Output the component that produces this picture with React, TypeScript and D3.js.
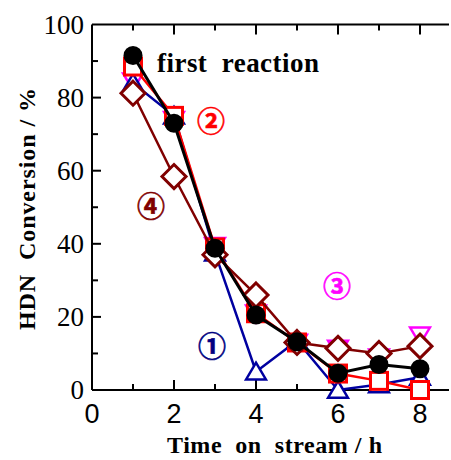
import React from 'react';
import * as d3 from 'd3';

const hours = [1, 2, 3, 4, 5, 6, 7, 8];
const run1 = [84, 75, 37.5, 5, 13.5, 0, 1.5, 3.5];
const run2 = [88.5, 75, 39, 21, 13, 4.5, 2.5, 0];
const run3 = [84.5, 74, 39.5, 21, 13, 11.4, 9, 15];
const run4 = [81.2, 58.4, 37, 26, 13, 11.4, 10, 12];
const first = [91.5, 73, 38.8, 20.5, 13.2, 4.6, 7, 5.8];
const xTicks = [0, 2, 4, 6, 8];
const yTicks = [0, 20, 40, 60, 80, 100];

const W = 451;
const H = 460;
const margin = { left: 92, top: 24.5, right: 2, bottom: 70 };

const App = () => {
  const x = d3.scaleLinear().domain([0, 8]).range([margin.left, 420]);
  const y = d3.scaleLinear().domain([0, 100]).range([390, margin.top]);
  const xEnd = W - margin.right;

  const line = (vals: number[]) =>
    d3.line<number>().x((d, i) => x(hours[i])).y((d) => y(d))(vals) || '';

  const serif = 'Liberation Serif, Times New Roman, serif';
  const sans = 'Liberation Sans, Arial, sans-serif';
  const circled = 'Noto Sans CJK JP, DejaVu Sans, sans-serif';

  const tri = (up: boolean) => {
    const s = 9;
    return up
      ? `M0,${-s} L${s * 1.1},${s * 0.85} L${-s * 1.1},${s * 0.85} Z`
      : `M0,${s} L${s * 1.1},${-s * 0.85} L${-s * 1.1},${-s * 0.85} Z`;
  };

  const pre = { whiteSpace: 'pre' as const };

  return (
    <svg width={W} height={H} style={{ position: 'absolute', left: 0, top: 0, background: '#fff' }}>
      {/* axes */}
      <g stroke="#000" strokeWidth={2} fill="none">
        <line x1={margin.left} x2={xEnd} y1={y(0)} y2={y(0)} />
        <line x1={margin.left} x2={xEnd} y1={y(100)} y2={y(100)} />
        <line x1={margin.left} x2={margin.left} y1={y(0)} y2={y(100)} />
        {d3.range(1, 9).map((t) => {
          const len = t % 2 === 0 ? 10 : 6;
          return (
            <g key={'xt' + t}>
              <line x1={x(t)} x2={x(t)} y1={y(0)} y2={y(0) - len} />
              <line x1={x(t)} x2={x(t)} y1={y(100)} y2={y(100) + len} />
            </g>
          );
        })}
        {d3.range(10, 100, 10).map((t) => (
          <line
            key={'yt' + t}
            x1={margin.left}
            x2={margin.left + (t % 20 === 0 ? 9 : 6)}
            y1={y(t)}
            y2={y(t)}
          />
        ))}
      </g>
      {xTicks.map((t) => (
        <text key={'xl' + t} x={x(t)} y={423} textAnchor="middle" fontFamily={sans} fontSize={27}>
          {t}
        </text>
      ))}
      {yTicks.map((t) => (
        <text key={'yl' + t} x={84} y={y(t) + 9} textAnchor="end" fontFamily={serif} fontSize={27}>
          {t}
        </text>
      ))}
      <text x={167} y={453} style={pre} textLength={215} lengthAdjust="spacing"
        fontFamily={serif} fontWeight="bold" fontSize={24}>
        Time  on  stream / h
      </text>
      <text
        transform={`translate(35,${330}) rotate(-90)`}
        style={pre}
        textLength={242}
        lengthAdjust="spacing"
        fontFamily={serif}
        fontWeight="bold"
        fontSize={24}
      >
        HDN  Conversion / %
      </text>

      {/* series 3: magenta down triangles (line hidden beneath) */}
      {run3.map((v, i) => (
        <path key={'m' + i} d={tri(false)} transform={`translate(${x(hours[i])},${y(v)})`} fill="#fff" stroke="#ff00ff" strokeWidth={2.5} />
      ))}
      {/* series 1: blue triangles */}
      <path d={line(run1)} fill="none" stroke="#0000a0" strokeWidth={2.5} />
      {run1.map((v, i) => (
        <path key={'b' + i} d={tri(true)} transform={`translate(${x(hours[i])},${y(v)})`} fill="#fff" stroke="#0000a0" strokeWidth={2.5} />
      ))}
      {/* series 2: red squares */}
      <path d={line(run2)} fill="none" stroke="#ff0000" strokeWidth={2.5} />
      {run2.map((v, i) => (
        <rect key={'r' + i} x={x(hours[i]) - 8.5} y={y(v) - 8.5} width={17} height={17} fill="#fff" stroke="#ff0000" strokeWidth={3} />
      ))}
      {/* series 4: dark red diamonds */}
      <path d={line(run4)} fill="none" stroke="#800000" strokeWidth={2.5} />
      {run4.map((v, i) => (
        <path key={'d' + i} d="M0,-12 L12,0 L0,12 L-12,0 Z" transform={`translate(${x(hours[i])},${y(v)})`} fill="#fff" stroke="#800000" strokeWidth={3} />
      ))}
      {/* first reaction: black circles */}
      <path d={line(first)} fill="none" stroke="#000" strokeWidth={3} />
      {first.map((v, i) => (
        <circle key={'k' + i} cx={x(hours[i])} cy={y(v)} r={9.5} fill="#000" />
      ))}

      <text x={157} y={72} style={pre} textLength={162} lengthAdjust="spacing"
        fontFamily={serif} fontWeight="bold" fontSize={27}>
        first  reaction
      </text>
      <g fontFamily={circled} fontWeight="bold" fontSize={28} textAnchor="middle"
        dominantBaseline="central" strokeWidth={0.6}>
        <text x={212} y={345} fill="#000080" stroke="#000080">①</text>
        <text x={211} y={120} fill="#ff0000" stroke="#ff0000">②</text>
        <text x={337} y={285} fill="#ff00ff" stroke="#ff00ff">③</text>
        <text x={151} y={205} fill="#800000" stroke="#800000">④</text>
      </g>
    </svg>
  );
};

export default App;
